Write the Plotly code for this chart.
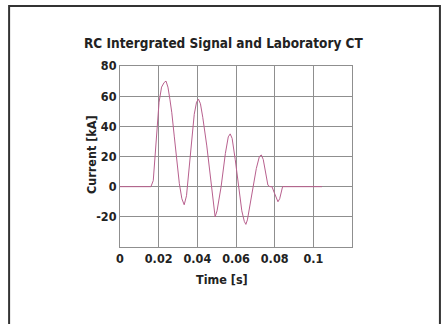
import plotly.graph_objects as go

time_s = [0, 0.016, 0.0172, 0.0181, 0.019, 0.0202, 0.0215, 0.0228, 0.0238, 0.0248,
          0.0258, 0.0268, 0.0281, 0.0294, 0.0307, 0.032, 0.0332, 0.0344, 0.0357, 0.0371,
          0.0384, 0.0396, 0.0406, 0.0416, 0.0428, 0.0449, 0.047, 0.0482, 0.0492, 0.0502,
          0.0523, 0.0545, 0.056, 0.057, 0.058, 0.0596, 0.0613, 0.063, 0.0643, 0.0651,
          0.0659, 0.0672, 0.0689, 0.0705, 0.0721, 0.0731, 0.0741, 0.0753, 0.0765, 0.0775,
          0.0786, 0.0798, 0.0808, 0.0817, 0.0826, 0.0834, 0.0841, 0.1045]
current_ka = [0, 0, 4, 18, 36, 56, 66, 69, 70, 66,
              58, 49, 33, 16, 2, -8, -12, -6, 12, 33,
              48, 56, 58, 55, 46, 27, 2, -12, -20, -16,
              0, 22, 33, 35, 32, 18, 0, -16, -23, -25,
              -22, -12, 0, 12, 20, 21, 18, 8, 1, 0,
              0, -4, -8, -10, -8, -4, 0, 0]

x_tickvals = [0, 0.02, 0.04, 0.06, 0.08, 0.1, 0.12]
x_ticktext = ["0", "0.02", "0.04", "0.06", "0.08", "0.1", ""]
y_tickvals = [-40, -20, 0, 20, 40, 60, 80]
y_ticktext = ["", "-20", "0", "20", "40", "60", "80"]

title_text = "RC Intergrated Signal and Laboratory CT"
x_title = "Time [s]"
y_title = "Current [kA]"

FONT = "DejaVu Sans Condensed, Liberation Sans Narrow, Arial"

fig = go.Figure()
fig.add_trace(go.Scatter(x=time_s, y=current_ka, mode="lines",
                         line=dict(color="#b8608e", width=1), showlegend=False))

fig.update_layout(
    width=441, height=324,
    margin=dict(l=120, r=89, t=66, b=77),
    paper_bgcolor="white", plot_bgcolor="white",
    font=dict(family=FONT, size=12, color="#222222"),
    xaxis=dict(range=[0, 0.12], tickvals=x_tickvals, ticktext=x_ticktext,
               showgrid=True, gridcolor="#8f8f8f", gridwidth=1,
               showline=True, linecolor="#8f8f8f", mirror=True, zeroline=False,
               ticks="", tickfont=dict(family=FONT, size=12.5, color="#222222", weight="bold")),
    yaxis=dict(range=[-40, 80], tickvals=y_tickvals, ticktext=y_ticktext,
               showgrid=True, gridcolor="#8f8f8f", gridwidth=1,
               showline=True, linecolor="#8f8f8f", mirror=True, zeroline=False,
               ticks="", tickfont=dict(family=FONT, size=12.5, color="#222222", weight="bold")),
    shapes=[dict(type="rect", xref="paper", yref="paper",
                 x0=-0.478, x1=1.379, y0=-0.46, y1=1.331,
                 line=dict(color="#333333", width=2))],
    annotations=[
        dict(text=title_text, xref="paper", yref="paper", x=0.444, y=1.127,
             showarrow=False, xanchor="center", yanchor="middle",
             font=dict(family=FONT, size=13.5, color="#222222", weight="bold")),
        dict(text=x_title, xref="paper", yref="paper", x=0.44, y=-0.177,
             showarrow=False, xanchor="center", yanchor="middle",
             font=dict(family=FONT, size=12.5, color="#222222", weight="bold")),
        dict(text=y_title, xref="paper", yref="paper", x=-0.125, y=0.508,
             showarrow=False, xanchor="center", yanchor="middle", textangle=-90,
             font=dict(family=FONT, size=12.5, color="#222222", weight="bold")),
    ],
)

fig.write_html("out.html", config={"displayModeBar": False},
               post_script="document.body.style.margin='0';")
